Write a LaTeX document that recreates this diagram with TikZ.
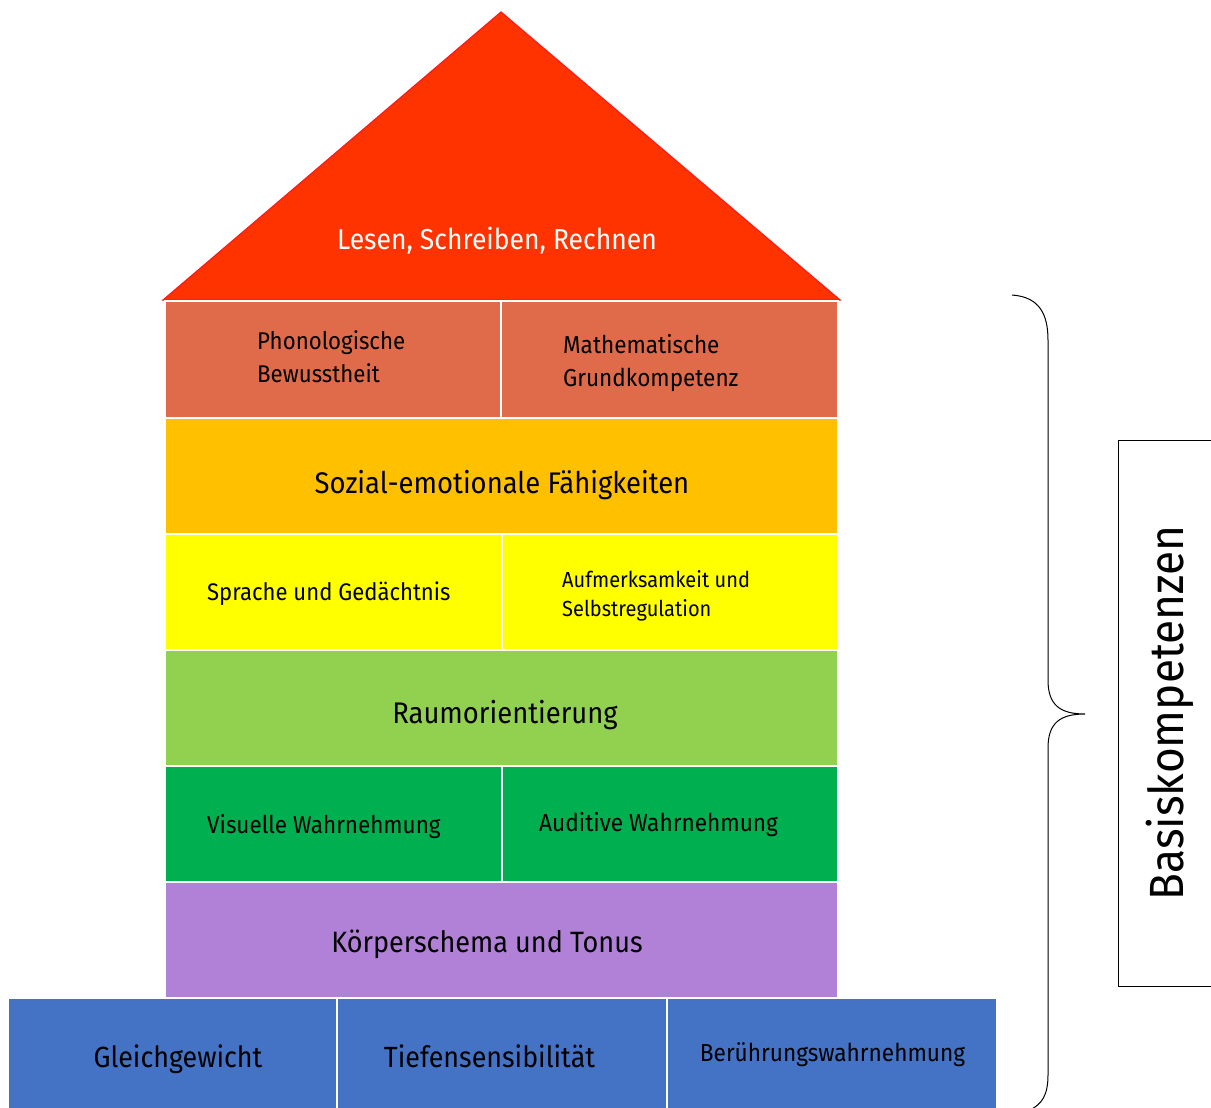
\documentclass[tikz,border=0pt]{standalone}
\usepackage{fontspec}
\setmainfont{Fira Sans}[FakeStretch=0.92]
\definecolor{roof}{HTML}{FF3300}
\definecolor{roofline}{HTML}{FF1A1A}
\definecolor{cA}{HTML}{E06B4B}
\definecolor{cB}{HTML}{FFC000}
\definecolor{cC}{HTML}{FFFF00}
\definecolor{cD}{HTML}{92D050}
\definecolor{cE}{HTML}{00B050}
\definecolor{cF}{HTML}{B180D7}
\definecolor{cG}{HTML}{4472C4}
\tikzset{
  cell/.style={draw=white, line width=1.5pt, minimum height=#1, inner sep=0pt, outer sep=0pt},
  lbl/.style={inner sep=0pt, text=black},
}
\begin{document}
\begin{tikzpicture}[x=1pt,y=-1pt]
\useasboundingbox (0,0) rectangle (1211,1108);
\fill[white] (0,0) rectangle (1211,1108);
% roof
\draw[fill=roof, draw=roofline, line width=1.2pt] (501,12) -- (840,300) -- (163,300) -- cycle;
\node[lbl, text=white, font=\fontsize{28.8}{34}\selectfont] (roofT) at (497,241) {Lesen, Schreiben, Rechnen};
% row 1
\node[cell=117pt, minimum width=336pt, fill=cA] (r1a) at (333,359.5) {};
\node[cell=117pt, minimum width=337pt, fill=cA] (r1b) at (669.5,359.5) {};
\node[lbl, anchor=west, align=left, font=\fontsize{24.2}{33}\selectfont] (t1a) at (257,357) {Phonologische\\Bewusstheit};
\node[lbl, anchor=west, align=left, font=\fontsize{24.5}{33}\selectfont] (t1b) at (563,363) {Mathematische\\Grundkompetenz};
% row 2
\node[cell=116pt, minimum width=673pt, fill=cB] (r2) at (501.5,476) {};
\node[lbl, font=\fontsize{29.8}{35}\selectfont] (t2) at (502,485) {Sozial-emotionale Fähigkeiten};
% row 3
\node[cell=116pt, minimum width=337pt, fill=cC] (r3a) at (333.5,592) {};
\node[cell=116pt, minimum width=336pt, fill=cC] (r3b) at (670,592) {};
\node[lbl, anchor=west, font=\fontsize{24}{29}\selectfont] (t3a) at (207,594) {Sprache und Gedächtnis};
\node[lbl, anchor=west, align=left, font=\fontsize{21.8}{29}\selectfont] (t3b) at (562,596) {Aufmerksamkeit und\\Selbstregulation};
% row 4
\node[cell=116pt, minimum width=673pt, fill=cD] (r4) at (501.5,708) {};
\node[lbl, font=\fontsize{29.8}{35}\selectfont] (t4) at (505,715) {Raumorientierung};
% row 5
\node[cell=116pt, minimum width=337pt, fill=cE] (r5a) at (333.5,824) {};
\node[cell=116pt, minimum width=336pt, fill=cE] (r5b) at (670,824) {};
\node[lbl, anchor=west, font=\fontsize{24.4}{29}\selectfont] (t5a) at (207,827) {Visuelle Wahrnehmung};
\node[lbl, anchor=west, font=\fontsize{24.6}{29}\selectfont] (t5b) at (539,825) {Auditive Wahrnehmung};
% row 6
\node[cell=116pt, minimum width=673pt, fill=cF] (r6) at (501.5,940) {};
\node[lbl, font=\fontsize{29.4}{35}\selectfont] (t6) at (487,944) {Körperschema und Tonus};
% base
\node[cell=120pt, minimum width=329pt, fill=cG] (b1) at (172.5,1058) {};
\node[cell=120pt, minimum width=330pt, fill=cG] (b2) at (502,1058) {};
\node[cell=120pt, minimum width=330pt, fill=cG] (b3) at (832,1058) {};
\node[lbl, font=\fontsize{29.2}{36}\selectfont] (tb1) at (178,1059) {Gleichgewicht};
\node[lbl, font=\fontsize{29.2}{36}\selectfont] (tb2) at (489.5,1056) {Tiefensensibilität};
\node[lbl, font=\fontsize{24.6}{29}\selectfont] (tb3) at (832.5,1055) {Berührungswahrnehmung};
% brace
\draw[line width=1pt] (1012,295) .. controls (1040,297) and (1048,315) .. (1048,340)
  -- (1048,680) .. controls (1048,705) and (1060,714) .. (1085,714)
  .. controls (1060,714) and (1048,723) .. (1048,748)
  -- (1048,1075) .. controls (1048,1095) and (1042,1104) .. (1030,1110);
% label box
\node[draw, line width=1pt, fill=white, minimum width=100pt, minimum height=546pt, inner sep=0pt] (bk) at (1168,713) {};
\node[lbl, rotate=90, font=\fontsize{48}{54}\selectfont] (bkT) at (1170,713) {Basiskompetenzen};
\end{tikzpicture}
\end{document}
